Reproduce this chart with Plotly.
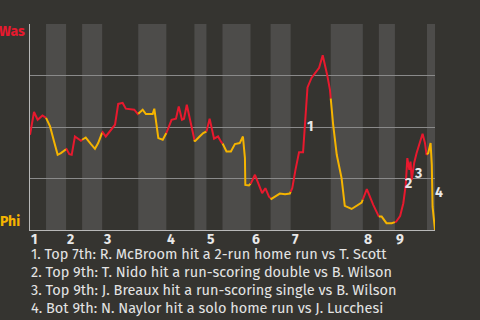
import numpy as np
import plotly.graph_objects as go

# Game progress (plate-appearance index) and Washington win probability (%)
progress = [0.0, 1.0, 1.9, 3.1, 4.0, 5.0, 6.0, 6.9, 7.7, 8.7, 9.1, 9.8, 10.4, 11.2, 11.9, 12.7,
            13.0, 13.9, 15.2, 16.2, 17.0, 17.9, 18.1, 18.9, 20.2, 21.2, 22.0, 23.1, 23.9, 26.0,
            26.9, 28.1, 28.9, 30.6, 31.0, 31.7, 32.0, 33.1, 33.9, 34.8, 35.3, 36.4, 37.1, 37.9,
            38.4, 39.1, 39.8, 40.7, 41.1, 42.3, 43.2, 44.0, 44.8, 45.9, 46.9, 47.6, 48.1, 49.0,
            50.1, 51.1, 52.3, 53.1, 53.6, 53.7, 54.6, 55.1, 56.1, 57.1, 57.9, 58.7, 59.6, 60.2,
            61.1, 62.3, 63.6, 64.8, 65.4, 66.2, 67.1, 68.1, 68.5, 68.8, 69.2, 70.2, 71.0, 72.1,
            73.0, 73.5, 74.1, 74.8, 75.6, 76.5, 77.1, 77.7, 78.5, 80.2, 82.7, 84.0, 85.6, 86.8,
            87.7, 88.9, 90.2, 91.3, 92.3, 93.1, 93.7, 94.1, 94.6, 94.9, 95.2, 95.8, 96.4, 97.9,
            98.5, 98.9, 99.3, 99.9, 100.2, 100.4, 101.0]
was_wp = [46.2, 57.3, 53.5, 55.6, 54.4, 50.3, 43.0, 36.5, 37.3, 38.9, 39.3, 36.8, 36.5, 45.4, 44.3, 43.3,
          43.8, 44.9, 41.7, 39.4, 42.2, 47.1, 47.5, 45.4, 48.7, 51.1, 61.2, 61.7, 58.9, 58.4,
          56.3, 58.4, 56.3, 56.3, 58.9, 49.5, 44.6, 43.8, 46.6, 50.8, 53.5, 54.0, 60.0, 53.5,
          54.0, 60.8, 54.4, 46.2, 43.0, 45.4, 47.1, 47.8, 54.0, 44.3, 45.4, 43.0, 41.7, 38.1,
          38.1, 41.7, 42.2, 45.4, 34.9, 21.9, 21.6, 22.7, 26.8, 21.9, 17.9, 20.3, 16.2, 15.1,
          16.2, 17.7, 17.4, 17.7, 20.3, 29.2, 37.8, 37.8, 50.3, 60.8, 69.2, 73.8, 75.8, 78.7,
          84.8, 81.1, 75.4, 68.1, 51.1, 36.5, 30.0, 25.2, 11.7, 10.2, 13.3, 19.8, 12.2, 6.5,
          6.5, 3.3, 3.3, 4.0, 6.8, 13.0, 21.9, 34.9, 29.2, 33.2, 24.3, 32.5, 37.3, 46.7,
          42.2, 36.5, 37.3, 42.2, 31.6, 11.3, 0.0]

# Half-inning boundaries: tops (Washington batting) and bottoms (Philadelphia batting)
innings = ["1", "2", "3", "4", "5", "6", "7", "8", "9"]
top_start = [0, 9, 18, 34, 44, 55, 65, 83, 91]
bot_start = [4, 13, 27, 41, 48, 60, 75, 87, 99]
game_end = 101

# Key plays, labelled on the chart (label offset in px from the play's position)
play_num = ["1", "2", "3", "4"]
play_x = [70.0, 94.5, 96.8, 101.0]
play_y = [50.1, 22.4, 27.3, 18.0]
play_dx = [0, 0, 0, 4]
play_text = [
    "1. Top 7th: R. McBroom hit a 2-run home run vs T. Scott",
    "2. Top 9th: T. Nido hit a run-scoring double vs B. Wilson",
    "3. Top 9th: J. Breaux hit a run-scoring single vs B. Wilson",
    "4. Bot 9th: N. Naylor hit a solo home run vs J. Lucchesi",
]

BG = "#353430"
BAND = "#4d4c4a"
RED = "#e8192e"
GOLD = "#f5b400"
FONT = "Fira Sans, Roboto, sans-serif"

fig = go.Figure()

px = np.array(progress, dtype=float)
py = np.array(was_wp, dtype=float)

# Build half-inning segments so the line colour follows the batting team
edges = sorted([(s, "top") for s in top_start] + [(s, "bot") for s in bot_start])
for i, (start, half) in enumerate(edges):
    end = edges[i + 1][0] if i + 1 < len(edges) else game_end
    inside = (px > start) & (px < end)
    xs = np.concatenate([[start], px[inside], [end]])
    ys = np.concatenate([[np.interp(start, px, py)], py[inside], [np.interp(end, px, py)]])
    fig.add_trace(go.Scatter(
        x=xs, y=ys, mode="lines",
        line=dict(color=RED if half == "top" else GOLD, width=2),
        hoverinfo="skip", showlegend=False,
    ))
    if half == "bot":
        fig.add_shape(type="rect", xref="x", yref="paper", x0=start, x1=end, y0=0, y1=1,
                      fillcolor=BAND, line_width=0, layer="below")

annotations = []
# Inning numbers at the start of each top half
for lab, s in zip(innings, top_start):
    annotations.append(dict(x=s, y=0, xref="x", yref="y", text=f"<b>{lab}</b>", showarrow=False,
                            xanchor="left", yanchor="top", yshift=1, xshift=-1,
                            font=dict(family=FONT, size=14, color="#e8e8e8")))
# Key play markers
for n, x, y, dx in zip(play_num, play_x, play_y, play_dx):
    annotations.append(dict(x=x, y=y, xref="x", yref="y", text=f"<b>{n}</b>", showarrow=False,
                            xanchor="center", yanchor="middle", xshift=dx,
                            font=dict(family=FONT, size=14, color="#e8e8e8")))
# Team labels
annotations.append(dict(x=0, y=100, xref="paper", yref="y", text="<b>Was</b>", showarrow=False,
                        xanchor="right", yanchor="middle", xshift=-3, yshift=-7,
                        font=dict(family=FONT, size=14, color=RED)))
annotations.append(dict(x=0, y=0, xref="paper", yref="y", text="<b>Phi</b>", showarrow=False,
                        xanchor="right", yanchor="middle", xshift=-8, yshift=9,
                        font=dict(family=FONT, size=14, color=GOLD)))
# Key play descriptions
for i, t in enumerate(play_text):
    annotations.append(dict(x=0, y=0, xref="paper", yref="paper", text=t, showarrow=False,
                            xanchor="left", yanchor="middle", xshift=-1, yshift=-24 - 18 * i,
                            font=dict(family=FONT, size=14.5, color="#e4e4e4")))

fig.update_layout(
    width=480, height=320,
    margin=dict(l=30, r=45, t=24, b=90),
    paper_bgcolor=BG, plot_bgcolor=BG,
    showlegend=False,
    annotations=annotations,
    xaxis=dict(range=[0, game_end], showgrid=False, zeroline=False, showticklabels=False,
               ticks="", showline=True, linecolor="#b8b8b8", linewidth=1, fixedrange=True),
    yaxis=dict(range=[0, 100], tickvals=[25, 50, 75, 100], showgrid=True, gridcolor="#8a8a8a",
               gridwidth=1, zeroline=False, showticklabels=False, ticks="",
               showline=True, linecolor="#b8b8b8", linewidth=1, fixedrange=True),
)

fig.write_html("out.html", config={"displayModeBar": False})
